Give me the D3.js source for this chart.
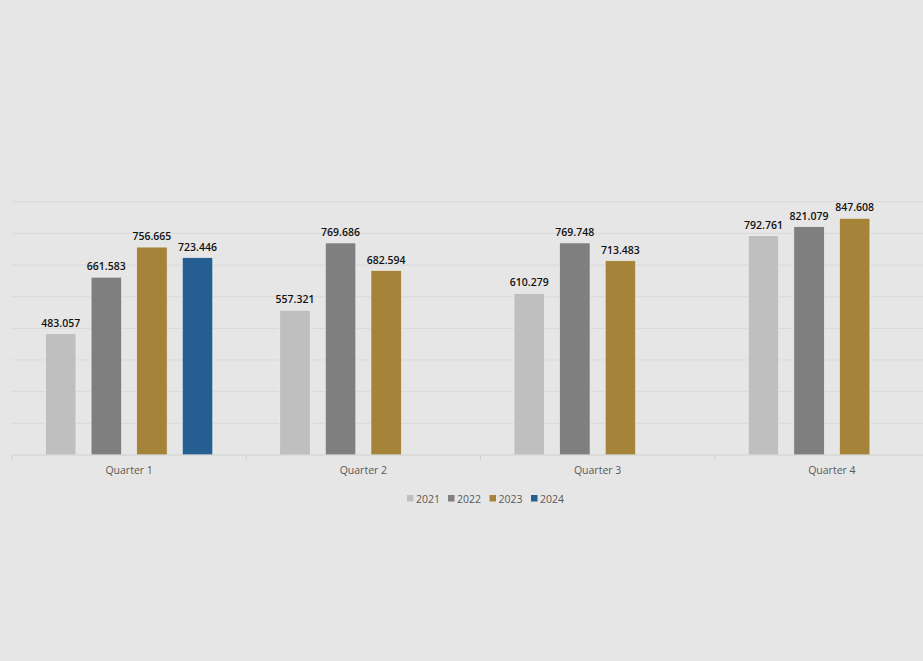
<!DOCTYPE html>
<html><head><meta charset="utf-8">
<script src="https://cdn.jsdelivr.net/npm/d3@7"></script>
<style>body{margin:0;background:#E7E6E6;} svg{display:block;}</style>
</head><body>
<svg id="c" width="923" height="661"></svg>
<script>
const categories = ["Quarter 1","Quarter 2","Quarter 3","Quarter 4"];
const years = ["2021","2022","2023","2024"];
const v2021 = [483.057, 557.321, 610.279, 792.761];
const v2022 = [661.583, 769.686, 769.748, 821.079];
const v2023 = [756.665, 682.594, 713.483, 847.608];
const v2024 = [723.446, null, null, null];
const colors = ["#BFBFBF","#7F7F7F","#A5843A","#255E91"];
const yTicks = [100,200,300,400,500,600,700,800,900];

const series = [v2021, v2022, v2023, v2024];
const svg = d3.select("#c");
svg.append("rect").attr("width",923).attr("height",661).attr("fill","#E7E6E6");

const pLeft = 12, pRight = 949, pTop = 201.7, pBottom = 455;
const x0 = d3.scaleBand().domain(categories).range([pLeft, pRight]);
const cw = x0.bandwidth();
const x1 = d3.scaleBand().domain(years).range([33.5, cw-33.5]).paddingInner(0.332);
const y = d3.scaleLinear().domain([100, 900]).range([pBottom, pTop]);
const font = "'Open Sans', 'Noto Sans', sans-serif";

// gridlines
svg.append("g").selectAll("line").data(yTicks.slice(1)).join("line")
  .attr("x1", pLeft).attr("x2", pRight)
  .attr("y1", d=>y(d)).attr("y2", d=>y(d))
  .attr("stroke", "#D9D9D9").attr("stroke-width", 1);

// bars
const g = svg.append("g");
categories.forEach((c, ci) => {
  years.forEach((yr, si) => {
    const v = series[si][ci];
    if (v == null) return;
    g.append("rect")
      .attr("x", x0(c) + x1(yr))
      .attr("y", y(v))
      .attr("width", x1.bandwidth())
      .attr("height", y(100) - y(v))
      .attr("fill", colors[si])
      .attr("stroke", "#F2F2F2").attr("stroke-width", 0.6);
    g.append("text")
      .attr("x", x0(c) + x1(yr) + x1.bandwidth()/2)
      .attr("y", y(v) - 7)
      .attr("text-anchor", "middle")
      .attr("font-family", font)
      .attr("font-size", "10.5px")
      .attr("font-weight", "600")
      .attr("fill", "#111")
      .text(v.toFixed(3));
  });
});

// x axis
const xa = svg.append("g");
xa.append("line").attr("x1", pLeft).attr("x2", pRight).attr("y1", pBottom).attr("y2", pBottom)
  .attr("stroke", "#D0D0D0").attr("stroke-width", 1);
const bounds = categories.map(c => x0(c)).concat([pRight]);
xa.selectAll("line.t").data(bounds).join("line").attr("class","t")
  .attr("x1", d=>d).attr("x2", d=>d).attr("y1", pBottom).attr("y2", pBottom+5)
  .attr("stroke", "#D0D0D0");
xa.selectAll("text").data(categories).join("text")
  .attr("x", d => x0(d) + cw/2).attr("y", 474)
  .attr("text-anchor","middle")
  .attr("font-family", font)
  .attr("font-size","10.5px").attr("fill","#595959")
  .text(d=>d);

// legend
const lg = svg.append("g");
const lx = [407, 448, 489.5, 531];
years.forEach((yr, i) => {
  lg.append("rect").attr("x", lx[i]).attr("y", 495).attr("width", 6.5).attr("height", 6.5).attr("fill", colors[i]);
  lg.append("text").attr("x", lx[i]+9).attr("y", 502.5)
    .attr("font-family", font)
    .attr("font-size","10.5px").attr("fill","#595959").text(yr);
});
</script>
</body></html>
